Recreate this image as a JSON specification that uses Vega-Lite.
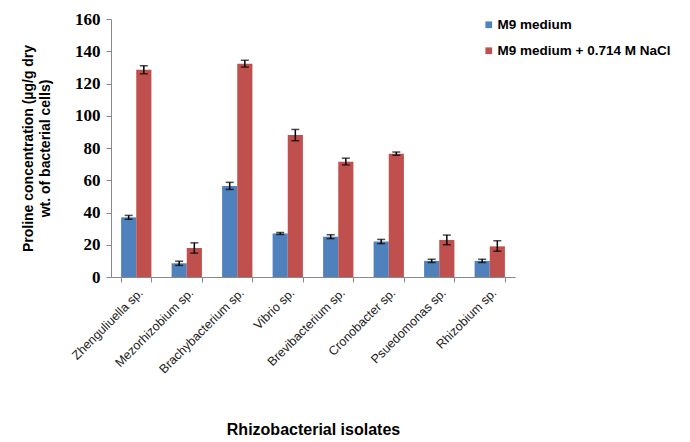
{
  "$schema": "https://vega.github.io/schema/vega-lite/v6.json",
  "width": 404,
  "height": 258,
  "autosize": {"type": "none"},
  "padding": {"left": 111, "top": 19, "right": 175, "bottom": 165},
  "background": "white",
  "config": {
    "view": {"stroke": null},
    "axisY": {
      "labelOverlap": false, "grid": false,
      "titleFont": "Liberation Sans", "titleFontSize": 14, "titleFontWeight": "bold", "titleColor": "black",
      "titlePadding": 22, "titleLineHeight": 17,
      "labelFont": "Liberation Serif", "labelFontSize": 17, "labelFontWeight": "bold", "labelColor": "black",
      "labelPadding": 6, "tickColor": "#888", "tickSize": 5, "domainColor": "#888"
    }
  },
  "data": {"values": [
    {"isolate": "Zhenguliuella sp.", "medium": "M9 medium", "value": 37, "lo": 35.8, "hi": 38.2},
    {"isolate": "Zhenguliuella sp.", "medium": "M9 medium + 0.714 M NaCl", "value": 128.5, "lo": 126, "hi": 131},
    {"isolate": "Mezorhizobium sp.", "medium": "M9 medium", "value": 8.5, "lo": 7.2, "hi": 9.8},
    {"isolate": "Mezorhizobium sp.", "medium": "M9 medium + 0.714 M NaCl", "value": 18, "lo": 14.8, "hi": 21.2},
    {"isolate": "Brachybacterium sp.", "medium": "M9 medium", "value": 56.5, "lo": 54.3, "hi": 58.7},
    {"isolate": "Brachybacterium sp.", "medium": "M9 medium + 0.714 M NaCl", "value": 132.2, "lo": 130.2, "hi": 134.4},
    {"isolate": "Vibrio sp.", "medium": "M9 medium", "value": 27, "lo": 26.4, "hi": 27.6},
    {"isolate": "Vibrio sp.", "medium": "M9 medium + 0.714 M NaCl", "value": 88, "lo": 84.5, "hi": 91.5},
    {"isolate": "Brevibacterium sp.", "medium": "M9 medium", "value": 25, "lo": 23.8, "hi": 26.2},
    {"isolate": "Brevibacterium sp.", "medium": "M9 medium + 0.714 M NaCl", "value": 71.5, "lo": 69.5, "hi": 73.7},
    {"isolate": "Cronobacter sp.", "medium": "M9 medium", "value": 22, "lo": 20.7, "hi": 23.3},
    {"isolate": "Cronobacter sp.", "medium": "M9 medium + 0.714 M NaCl", "value": 76.5, "lo": 75.5, "hi": 77.5},
    {"isolate": "Psuedomonas sp.", "medium": "M9 medium", "value": 10, "lo": 9, "hi": 11},
    {"isolate": "Psuedomonas sp.", "medium": "M9 medium + 0.714 M NaCl", "value": 23, "lo": 20, "hi": 26},
    {"isolate": "Rhizobium sp.", "medium": "M9 medium", "value": 10, "lo": 9, "hi": 11},
    {"isolate": "Rhizobium sp.", "medium": "M9 medium + 0.714 M NaCl", "value": 19, "lo": 16, "hi": 22.5}
  ]},
  "encoding": {
    "x": {
      "field": "isolate", "type": "nominal", "sort": null,
      "scale": {"paddingInner": 0.4, "paddingOuter": 0.2},
      "axis": {
        "title": "Rhizobacterial isolates",
        "titleFont": "Liberation Sans", "titleFontSize": 16, "titleFontWeight": "bold", "titleColor": "black",
        "titlePadding": 46,
        "labelAngle": -45, "labelFontSize": 12.5, "labelColor": "#222", "labelFont": "Liberation Sans",
        "labelPadding": 4, "labelOverlap": false,
        "tickBand": "extent", "tickColor": "#888", "tickSize": 5,
        "domainColor": "#888", "grid": false
      }
    },
    "xOffset": {"field": "medium", "type": "nominal", "scale": {"paddingInner": 0}}
  },
  "layer": [
    {
      "mark": {"type": "bar"},
      "encoding": {
        "y": {
          "field": "value", "type": "quantitative",
          "scale": {"domain": [0, 160]},
          "axis": {
            "values": [0, 20, 40, 60, 80, 100, 120, 140, 160],
            "labelFont": "Liberation Serif",
            "title": ["Proline concentration (µg/g dry", "wt. of  bacterial cells)"]
          }
        },
        "color": {
          "field": "medium", "type": "nominal",
          "scale": {"range": ["#4F81BD", "#C0504D"]},
          "legend": {
            "title": null, "orient": "none", "legendX": 371, "legendY": -1,
            "symbolType": "square", "symbolSize": 45, "symbolStrokeWidth": 0,
            "labelFont": "Liberation Sans", "labelFontSize": 13.5, "labelFontWeight": "bold", "labelColor": "black",
            "rowPadding": 11, "labelOffset": 2, "labelLimit": 300
          }
        }
      }
    },
    {
      "mark": {"type": "rule", "color": "black", "strokeWidth": 1.5},
      "encoding": {
        "y": {"field": "lo", "type": "quantitative", "axis": {"values": [0, 20, 40, 60, 80, 100, 120, 140, 160], "labelFont": "Liberation Serif", "title": ["Proline concentration (µg/g dry", "wt. of  bacterial cells)"]}},
        "y2": {"field": "hi"}
      }
    },
    {
      "mark": {"type": "tick", "color": "black", "thickness": 1.5, "size": 8},
      "encoding": {"y": {"field": "lo", "type": "quantitative", "axis": {"values": [0, 20, 40, 60, 80, 100, 120, 140, 160], "labelFont": "Liberation Serif", "title": ["Proline concentration (µg/g dry", "wt. of  bacterial cells)"]}}}
    },
    {
      "mark": {"type": "tick", "color": "black", "thickness": 1.5, "size": 8},
      "encoding": {"y": {"field": "hi", "type": "quantitative", "axis": {"values": [0, 20, 40, 60, 80, 100, 120, 140, 160], "labelFont": "Liberation Serif", "title": ["Proline concentration (µg/g dry", "wt. of  bacterial cells)"]}}}
    }
  ]
}
